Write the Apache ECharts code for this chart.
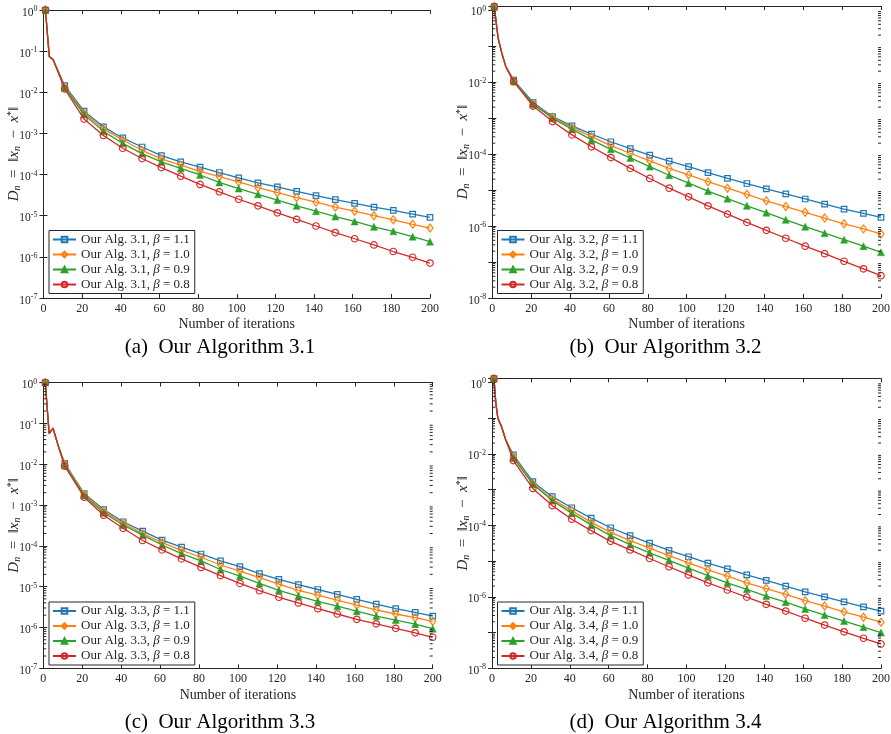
<!DOCTYPE html>
<html><head><meta charset="utf-8">
<script src="https://cdn.jsdelivr.net/npm/echarts@6/dist/echarts.min.js"></script>
<style>html,body{margin:0;padding:0;background:#fff}#c{width:891px;height:734px}</style>
</head><body><div id="c"></div>
<script>
// ---------- DATA (stored as log10 of D_n) ----------
const markerIters = [1, 11, 21, 31, 41, 51, 61, 71, 81, 91, 101, 111, 121, 131, 141, 151, 161, 171, 181, 191, 200];
const betaLabels = ['1.1', '1.0', '0.9', '0.8'];
const algNames = ['3.1', '3.2', '3.3', '3.4'];
const captions = ['(a)\u2002Our Algorithm 3.1', '(b)\u2002Our Algorithm 3.2', '(c)\u2002Our Algorithm 3.3', '(d)\u2002Our Algorithm 3.4'];
const xTicks = [0, 20, 40, 60, 80, 100, 120, 140, 160, 180, 200];
const yTickExpA = [0, -1, -2, -3, -4, -5, -6, -7];
const yTickExpB = [0, -2, -4, -6, -8];
const yTickExpC = [0, -1, -2, -3, -4, -5, -6, -7];
const yTickExpD = [0, -2, -4, -6, -8];

// early (unmarked) iterations shared by all four curves of a panel
const earlyA_x = [3, 5];        const earlyA_log = [-1.13, -1.21];
const earlyB_x = [3, 5, 7];     const earlyB_log = [-0.78, -1.22, -1.58];
const earlyC_x = [3, 5, 8];     const earlyC_log = [-1.25, -1.12, -1.6];
const earlyD_x = [2, 3, 5, 7];  const earlyD_log = [-0.6, -1.0, -1.26, -1.6];

// log10(D_n) at markerIters
const A_b11 = [0, -1.84, -2.46, -2.84, -3.11, -3.33, -3.54, -3.69, -3.82, -3.95, -4.08, -4.20, -4.30, -4.41, -4.51, -4.61, -4.70, -4.79, -4.87, -4.96, -5.04];
const A_b10 = [0, -1.87, -2.50, -2.89, -3.16, -3.41, -3.62, -3.77, -3.92, -4.05, -4.18, -4.32, -4.44, -4.56, -4.67, -4.79, -4.89, -5.00, -5.10, -5.21, -5.30];
const A_b09 = [0, -1.89, -2.54, -2.95, -3.24, -3.49, -3.69, -3.85, -4.01, -4.19, -4.34, -4.48, -4.62, -4.76, -4.89, -5.02, -5.14, -5.27, -5.38, -5.51, -5.63];
const A_b08 = [0, -1.92, -2.65, -3.05, -3.36, -3.61, -3.83, -4.04, -4.24, -4.42, -4.60, -4.76, -4.93, -5.09, -5.25, -5.41, -5.56, -5.71, -5.87, -6.01, -6.15];

const B_b11 = [0.09, -1.95, -2.57, -2.96, -3.22, -3.45, -3.66, -3.85, -4.03, -4.20, -4.35, -4.52, -4.68, -4.82, -4.97, -5.11, -5.25, -5.39, -5.53, -5.65, -5.76];
const B_b10 = [0.09, -1.97, -2.61, -2.98, -3.27, -3.52, -3.77, -3.98, -4.19, -4.40, -4.58, -4.77, -4.95, -5.12, -5.30, -5.46, -5.62, -5.78, -5.94, -6.08, -6.22];
const B_b09 = [0.09, -1.98, -2.62, -3.01, -3.31, -3.61, -3.87, -4.11, -4.35, -4.59, -4.81, -5.03, -5.24, -5.44, -5.63, -5.83, -6.02, -6.20, -6.38, -6.56, -6.73];
const B_b08 = [0.09, -1.99, -2.67, -3.10, -3.47, -3.80, -4.10, -4.40, -4.68, -4.95, -5.19, -5.44, -5.67, -5.90, -6.12, -6.34, -6.56, -6.77, -6.98, -7.19, -7.38];

const C_b11 = [0, -1.98, -2.72, -3.11, -3.41, -3.64, -3.86, -4.03, -4.20, -4.37, -4.51, -4.68, -4.82, -4.95, -5.07, -5.19, -5.31, -5.43, -5.54, -5.63, -5.72];
const C_b10 = [0, -2.00, -2.74, -3.15, -3.45, -3.70, -3.92, -4.11, -4.28, -4.47, -4.62, -4.78, -4.94, -5.09, -5.21, -5.33, -5.45, -5.57, -5.67, -5.76, -5.85];
const C_b09 = [0, -2.02, -2.77, -3.19, -3.49, -3.74, -3.98, -4.19, -4.37, -4.58, -4.74, -4.92, -5.09, -5.23, -5.36, -5.48, -5.60, -5.72, -5.82, -5.92, -6.03];
const C_b08 = [0, -2.05, -2.81, -3.25, -3.57, -3.87, -4.10, -4.32, -4.53, -4.73, -4.92, -5.10, -5.26, -5.40, -5.54, -5.67, -5.80, -5.91, -6.02, -6.13, -6.24];

const D_b11 = [0.1, -2.03, -2.78, -3.20, -3.51, -3.80, -4.07, -4.29, -4.50, -4.70, -4.88, -5.06, -5.22, -5.39, -5.54, -5.70, -5.86, -6.00, -6.14, -6.28, -6.40];
const D_b10 = [0.1, -2.08, -2.83, -3.27, -3.59, -3.92, -4.20, -4.43, -4.64, -4.85, -5.05, -5.25, -5.42, -5.61, -5.77, -5.93, -6.11, -6.26, -6.42, -6.57, -6.71];
const D_b09 = [0.1, -2.12, -2.85, -3.31, -3.66, -3.99, -4.29, -4.54, -4.77, -4.98, -5.20, -5.41, -5.61, -5.79, -5.98, -6.15, -6.34, -6.51, -6.68, -6.85, -7.00];
const D_b08 = [0.1, -2.19, -2.97, -3.45, -3.83, -4.15, -4.45, -4.69, -4.93, -5.16, -5.39, -5.61, -5.81, -6.01, -6.21, -6.40, -6.60, -6.79, -6.98, -7.16, -7.32];

// ---------- STYLE / LAYOUT ----------
const INK = '#262626';
const SERIF = '"Liberation Serif", "Times New Roman", serif';
const colors = ['#1f77b4', '#ff7f0e', '#2ca02c', '#d62728'];
const symbols = [
  {symbol: 'rect', size: 5.5, fill: 'rgba(0,0,0,0)'},
  {symbol: 'diamond', size: [6, 8], fill: 'rgba(0,0,0,0)'},
  {symbol: 'triangle', size: 7, fill: null},
  {symbol: 'circle', size: 6.5, fill: 'rgba(0,0,0,0)'}
];
const panels = [
  {grid: {left: 43.5, top: 10, width: 386.5, height: 288}, yMin: 1e-7, yMaxLog: 0, ticks: yTickExpA, minor: false,
   ex: earlyA_x, el: earlyA_log, curves: [A_b11, A_b10, A_b09, A_b08], legend: {left: 49, top: 230.5}, nameGap: 19, cap: {x: 220, y: 347}},
  {grid: {left: 492.3, top: 6, width: 388.7, height: 292}, yMin: 1e-8, yMaxLog: 0.11, ticks: yTickExpB, minor: true,
   ex: earlyB_x, el: earlyB_log, curves: [B_b11, B_b10, B_b09, B_b08], legend: {left: 497.5, top: 230.5}, nameGap: 19, cap: {x: 665.5, y: 347}},
  {grid: {left: 43.3, top: 382.5, width: 389.4, height: 285.8}, yMin: 1e-7, yMaxLog: 0, ticks: yTickExpC, minor: true,
   ex: earlyC_x, el: earlyC_log, curves: [C_b11, C_b10, C_b09, C_b08], legend: {left: 49, top: 602}, nameGap: 20, cap: {x: 220, y: 722}},
  {grid: {left: 492, top: 378.3, width: 389, height: 290}, yMin: 1e-8, yMaxLog: 0.11, ticks: yTickExpD, minor: true,
   ex: earlyD_x, el: earlyD_log, curves: [D_b11, D_b10, D_b09, D_b08], legend: {left: 497.5, top: 602}, nameGap: 20, cap: {x: 665.5, y: 722}}
];

const grids = [], xAxes = [], yAxes = [], series = [], legends = [], graphics = [];

panels.forEach((p, pi) => {
  grids.push(Object.assign({outerBoundsMode: 'none', containLabel: false}, p.grid));
  const yMax = Math.pow(10, p.yMaxLog);
  const tickCommon = {show: true, inside: true, length: 4, lineStyle: {color: INK, width: 1}};
  xAxes.push({
    type: 'value', gridIndex: pi, position: 'bottom', min: 0, max: 200, interval: 20,
    axisLine: {show: true, lineStyle: {color: INK, width: 1}}, axisTick: tickCommon, splitLine: {show: false},
    axisLabel: {show: true, margin: 5, color: INK, fontFamily: SERIF, fontSize: 12,
      formatter: v => xTicks.indexOf(v) >= 0 ? String(v) : ''},
    name: 'Number of iterations', nameLocation: 'middle', nameGap: p.nameGap, nameMoveOverlap: false,
    nameTextStyle: {color: INK, fontFamily: SERIF, fontSize: 14}
  });
  xAxes.push({
    type: 'value', gridIndex: pi, position: 'top', min: 0, max: 200, interval: 20,
    axisLine: {show: true, lineStyle: {color: INK, width: 1}}, axisTick: tickCommon, splitLine: {show: false},
    axisLabel: {show: false}
  });
  yAxes.push({
    type: 'log', logBase: 10, gridIndex: pi, position: 'left', min: p.yMin, max: yMax,
    axisLine: {show: true, lineStyle: {color: INK, width: 1}}, axisTick: tickCommon, splitLine: {show: false},
    minorTick: {show: false}, minorSplitLine: {show: false},
    axisLabel: {show: true, margin: 6, color: INK, fontFamily: SERIF,
      formatter: v => {
        const l = Math.log10(v); const e = Math.round(l);
        if (Math.abs(l - e) > 1e-6 || p.ticks.indexOf(e) < 0) return '';
        return '{b|10}{e|' + e + '}';
      },
      rich: {
        b: {fontFamily: SERIF, fontSize: 11.5, color: INK, padding: [5, 0, 0, 0]},
        e: {fontFamily: SERIF, fontSize: 8, color: INK, padding: [0, 0, 2, 0]}
      }
    },
    name: '{i|D}{s|n}{r|\u2002=\u2002\u2016}{i|x}{s|n}{r|\u2002\u2212\u2002}{i|x}{p|*}{r|\u2016}',
    nameLocation: 'middle', nameRotate: 90, nameGap: 21, nameMoveOverlap: false,
    nameTextStyle: {
      color: INK, fontFamily: SERIF, fontSize: 15,
      rich: {
        i: {fontFamily: SERIF, fontStyle: 'italic', fontSize: 15, color: INK},
        r: {fontFamily: SERIF, fontSize: 15, color: INK},
        s: {fontFamily: SERIF, fontStyle: 'italic', fontSize: 10, color: INK, padding: [6, 0, 0, 0]},
        p: {fontFamily: SERIF, fontSize: 10, color: INK, padding: [0, 0, 6, 0]}
      }
    }
  });
  yAxes.push({
    type: 'log', logBase: 10, gridIndex: pi, position: 'right', min: p.yMin, max: yMax,
    axisLine: {show: true, lineStyle: {color: INK, width: 1}}, axisTick: tickCommon, splitLine: {show: false},
    axisLabel: {show: false}
  });

  const names = [];
  p.curves.forEach((logs, si) => {
    const name = 'Our Alg. ' + algNames[pi] + ', β = ' + betaLabels[si];
    names.push(name);
    const data = [];
    data.push([markerIters[0], Math.pow(10, logs[0])]);
    p.ex.forEach((x, k) => data.push({value: [x, Math.pow(10, p.el[k])], symbol: 'none'}));
    for (let k = 1; k < markerIters.length; k++) data.push([markerIters[k], Math.pow(10, logs[k])]);
    const sy = symbols[si];
    series.push({
      type: 'line', name: name, xAxisIndex: 2 * pi, yAxisIndex: 2 * pi, data: data,
      symbol: sy.symbol, symbolSize: sy.size, showSymbol: true, showAllSymbol: true,
      animation: false, silent: true, z: 3 + si,
      color: colors[si],
      lineStyle: {color: colors[si], width: 1.3},
      itemStyle: sy.fill ? {color: sy.fill, borderColor: colors[si], borderWidth: 1.2} : {color: colors[si], borderColor: colors[si], borderWidth: 0.5}
    });
  });

  // minor log ticks (2..9 x 10^k) on both vertical sides
  if (p.minor) {
    const minorVals = [];
    const kMin = Math.round(Math.log10(p.yMin));
    for (let k = kMin; k <= 0; k++) for (let m = 2; m <= 9; m++) {
      const v = m * Math.pow(10, k);
      if (v < yMax) minorVals.push([100, v]);
    }
    series.push({
      type: 'custom', xAxisIndex: 2 * pi, yAxisIndex: 2 * pi, data: minorVals, silent: true, animation: false, clip: false, z: 10,
      encode: {x: 0, y: 1},
      renderItem: (params, api) => {
        const pt = api.coord([api.value(0), api.value(1)]);
        const cs = params.coordSys;
        const st = {stroke: INK, lineWidth: 1};
        return {type: 'group', children: [
          {type: 'line', shape: {x1: cs.x, y1: pt[1], x2: cs.x + 3, y2: pt[1]}, style: st},
          {type: 'line', shape: {x1: cs.x + cs.width - 3, y1: pt[1], x2: cs.x + cs.width, y2: pt[1]}, style: st}
        ]};
      }
    });
  }

  legends.push({
    data: names, orient: 'vertical', left: p.legend.left, top: p.legend.top,
    itemWidth: 23, itemHeight: 7, itemGap: 1, padding: [2, 5, 2, 3],
    backgroundColor: '#fff', borderColor: INK, borderWidth: 1, borderRadius: 0,
    selectedMode: false,
    formatter: n => { const parts = n.split('β'); return '{t|' + parts[0] + '}{g|β}{t|' + parts[1] + '}'; },
    textStyle: {
      color: INK, fontFamily: SERIF, fontSize: 13, lineHeight: 14,
      rich: {
        t: {fontFamily: SERIF, fontSize: 13, color: INK, lineHeight: 14},
        g: {fontFamily: SERIF, fontStyle: 'italic', fontSize: 13, color: INK, lineHeight: 14}
      }
    }
  });

  graphics.push({
    type: 'text', x: p.cap.x, y: p.cap.y, silent: true,
    style: {text: captions[pi], fill: '#000', font: '21px ' + SERIF, textAlign: 'center', textVerticalAlign: 'middle'}
  });
});

const chart = echarts.init(document.getElementById('c'), null, {renderer: 'canvas'});
chart.setOption({
  backgroundColor: '#fff',
  animation: false,
  grid: grids, xAxis: xAxes, yAxis: yAxes, series: series, legend: legends, graphic: graphics
});
</script></body></html>
